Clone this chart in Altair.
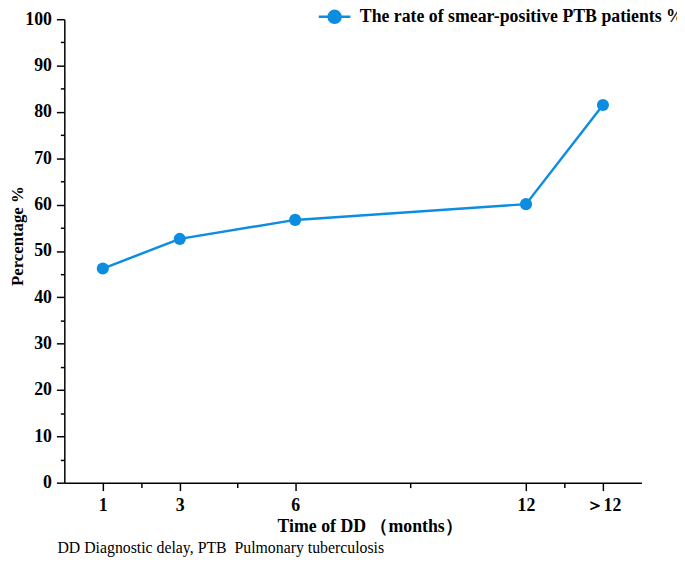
import altair as alt
import pandas as pd

# ---- data ----
months = [1, 3, 6, 12, 14]          # 14 is the ">12" category position
rate = [46.2, 52.6, 56.7, 60.1, 81.5]
series_name = "The rate of smear-positive PTB patients %"
x_major = [1, 3, 6, 12, 14]
x_minor = [2, 4.5, 9, 13]
y_major = [0, 10, 20, 30, 40, 50, 60, 70, 80, 90, 100]
y_minor = [5, 15, 25, 35, 45, 55, 65, 75, 85, 95]
footnote = "DD Diagnostic delay, PTB\u00a0\u00a0Pulmonary tuberculosis"

df = pd.DataFrame({"month": months, "rate": rate, "series": [series_name] * len(months)})

blue = "#0d8de0"
font = "Liberation Serif"

xscale = alt.Scale(domain=[0, 15], nice=False, zero=False)
yscale = alt.Scale(domain=[0, 100], nice=False)

x_axis = alt.Axis(
    values=x_major,
    labelExpr="datum.value == 14 ? '＞12' : datum.label",
    title="Time of DD （months）",
    tickSize=8, labelPadding=6, titlePadding=3, titleX=309,
    labelFontSize=18, labelFontWeight="bold", labelFont=font,
    titleFontSize=18, titleFontWeight="bold", titleFont=font,
    orient="bottom",
)
y_axis = alt.Axis(
    values=y_major,
    title="Percentage %",
    tickSize=8, labelPadding=5, titleX=-38, titleY=219,
    labelFontSize=18, labelFontWeight="bold", labelFont=font,
    titleFontSize=17, titleFontWeight="bold", titleFont=font,
    orient="left",
)
x_minor_axis = alt.Axis(values=x_minor, labels=False, domain=False, tickSize=5,
                        title=None, orient="bottom")
y_minor_axis = alt.Axis(values=y_minor, labels=False, domain=False, tickSize=4,
                        title=None, orient="left")

line = alt.Chart(df).mark_line(color=blue, strokeWidth=2.5).encode(
    x=alt.X("month:Q", scale=xscale, axis=x_axis),
    y=alt.Y("rate:Q", scale=yscale, axis=y_axis),
)

symbol_path = ("M-1,0L1,0M-0.38,0A0.38,0.38,0,1,1,0.38,0"
               "A0.38,0.38,0,1,1,-0.38,0Z")

points = alt.Chart(df).mark_point(filled=True, size=150, opacity=1).encode(
    x=alt.X("month:Q", scale=xscale, axis=None),
    y=alt.Y("rate:Q", scale=yscale, axis=None),
    color=alt.Color(
        "series:N",
        scale=alt.Scale(range=[blue]),
        legend=alt.Legend(
            title=None, orient="none", legendX=256, legendY=-20,
            symbolType=symbol_path, symbolSize=1024,
            symbolFillColor=blue, symbolStrokeColor=blue,
            symbolStrokeWidth=2.5, symbolOpacity=1,
            labelFont=font, labelFontSize=18, labelFontWeight="bold",
            labelColor="black", labelLimit=0, labelOffset=8,
        ),
    ),
)

minor = alt.Chart(df).mark_point(opacity=0).encode(
    x=alt.X("month:Q", scale=xscale, axis=x_minor_axis),
    y=alt.Y("rate:Q", scale=yscale, axis=y_minor_axis),
)

chart = (
    alt.layer(line, points, minor)
    .resolve_axis(x="independent", y="independent")
    .properties(
        width=584, height=469,
        autosize=alt.AutoSizeParams(type="none"),
        padding={"left": 57, "top": 8, "right": 36, "bottom": 85},
        title=alt.TitleParams(
            text=footnote, orient="bottom", anchor="start", frame="group",
            dx=-7, offset=5,
            font=font, fontSize=16, fontWeight="normal", color="black",
        ),
    )
    .configure_axis(
        domainColor="black", domainWidth=1.5, tickColor="black", tickWidth=1.5,
        grid=False, labelColor="black", titleColor="black",
    )
    .configure_view(stroke=None)
)

chart.save("out.html", embed_options={"renderer": "svg", "actions": False})
